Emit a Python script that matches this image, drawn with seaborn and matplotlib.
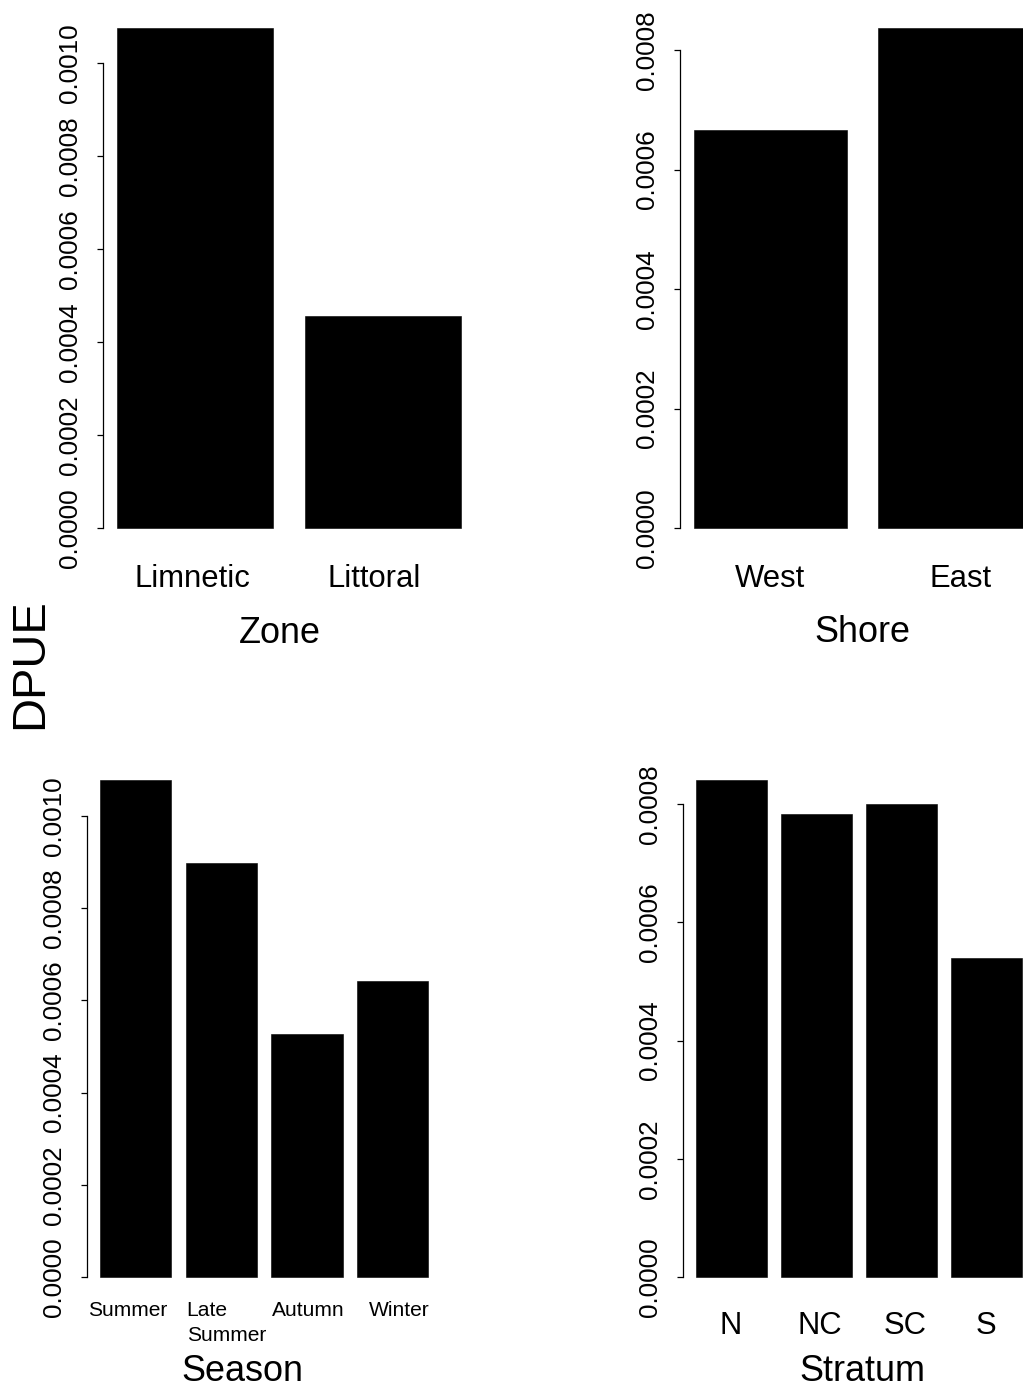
import numpy as np
import pandas as pd
import matplotlib
matplotlib.use("Agg")
import matplotlib.pyplot as plt
import matplotlib.transforms as mtransforms
from matplotlib.ticker import FormatStrFormatter
import seaborn as sns

# ---------------- data ----------------
zone_cats = ["Limnetic", "Littoral"]
zone_vals = [0.001076, 0.000456]

shore_cats = ["West", "East"]
shore_vals = [0.000667, 0.000837]

season_cats = ["Summer", "Late\nSummer", "Autumn", "Winter"]
season_vals = [0.001078, 0.000897, 0.000527, 0.000641]

stratum_cats = ["N", "NC", "SC", "S"]
stratum_vals = [0.000841, 0.000784, 0.000800, 0.000540]

y_label = "DPUE"
# ---------------------------------------

sns.set_style("white")
plt.rcParams["font.family"] = ["Liberation Sans", "DejaVu Sans"]
plt.rcParams["text.color"] = "black"
plt.rcParams["axes.labelcolor"] = "black"
plt.rcParams["xtick.color"] = "black"
plt.rcParams["ytick.color"] = "black"

W, H = 1023, 1388
DPI = 100
fig = plt.figure(figsize=(W / DPI, H / DPI), dpi=DPI)
PT = 72.0 / DPI  # points per pixel


def add_panel(cats, vals, left, right, y0, ytop, ytick_max, xlabel,
              cat_size, cat_pad, label_xy, label_offsets, linespacing=1.2):
    span = y0 - ytop
    top = ytop - 0.04 * span
    bottom = y0 + 0.04 * span
    ax = fig.add_axes([left / W, 1 - bottom / H, (right - left) / W, (bottom - top) / H])
    df = pd.DataFrame({"cat": cats, "val": vals})
    sns.barplot(data=df, x="cat", y="val", order=cats, color="black",
                saturation=1, width=1 / 1.2, errorbar=None,
                edgecolor="black", linewidth=0.4, ax=ax)
    n = len(cats)
    ext = 0.04 * (1.2 * n - 0.2)
    ax.set_xlim((0.2 - ext - 0.7) / 1.2, (1.2 * n + ext - 0.7) / 1.2)
    m = max(vals)
    ax.set_ylim(-0.04 * m, 1.04 * m)

    for s in ["top", "right", "bottom"]:
        ax.spines[s].set_visible(False)
    ax.spines["left"].set_linewidth(0.9)
    ax.spines["left"].set_color("black")
    ax.spines["left"].set_bounds(0, ytick_max)

    ax.set_yticks(np.arange(0, ytick_max + 1e-9, 0.0002))
    ax.yaxis.set_major_formatter(FormatStrFormatter("%.4f"))
    ax.tick_params(axis="y", length=6 * PT, width=0.9, colors="black",
                   labelsize=26 * PT, pad=15 * PT, labelrotation=90, left=True)
    for lbl in ax.get_yticklabels():
        lbl.set_va("center")

    ax.tick_params(axis="x", length=0, labelsize=cat_size * PT, pad=cat_pad * PT,
                   colors="black")
    for lbl, dx in zip(ax.get_xticklabels(), label_offsets):
        lbl.set_multialignment("left")
        lbl.set_linespacing(linespacing)
        lbl.set_color("black")
        lbl.set_transform(lbl.get_transform() +
                          mtransforms.ScaledTranslation(dx / DPI, 0, fig.dpi_scale_trans))

    ax.set_ylabel("")
    ax.set_xlabel(xlabel, fontsize=36 * PT, va="baseline", color="black")
    ax.xaxis.set_label_coords(label_xy[0] / W, 1 - label_xy[1] / H,
                              transform=fig.transFigure)
    ax.grid(False)
    return ax


add_panel(zone_cats, zone_vals, 102.9, 475.2, 528, 28, 0.0010, "Zone",
          31, 16, (280, 643), [-2.5, -9])
add_panel(shore_cats, shore_vals, 680.2, 1044.5, 528, 28, 0.0008, "Shore",
          31, 16, (862, 642), [0, 6])
add_panel(season_cats, season_vals, 86.9, 441.6, 1277, 780, 0.0010, "Season",
          21, 4, (242.5, 1381), [-8.5, 5, 1.5, 6.5], linespacing=1.4)
add_panel(stratum_cats, stratum_vals, 683, 1034.8, 1277, 780, 0.0008, "Stratum",
          31, 14, (862.5, 1381), [-0.5, 3, 4, 0])

fig.text(30.5 / W, 1 - 664 / H, y_label, rotation=90, ha="center", va="center",
         fontsize=47 * PT, color="black")

fig.savefig("out.png", dpi=DPI, facecolor="white")
